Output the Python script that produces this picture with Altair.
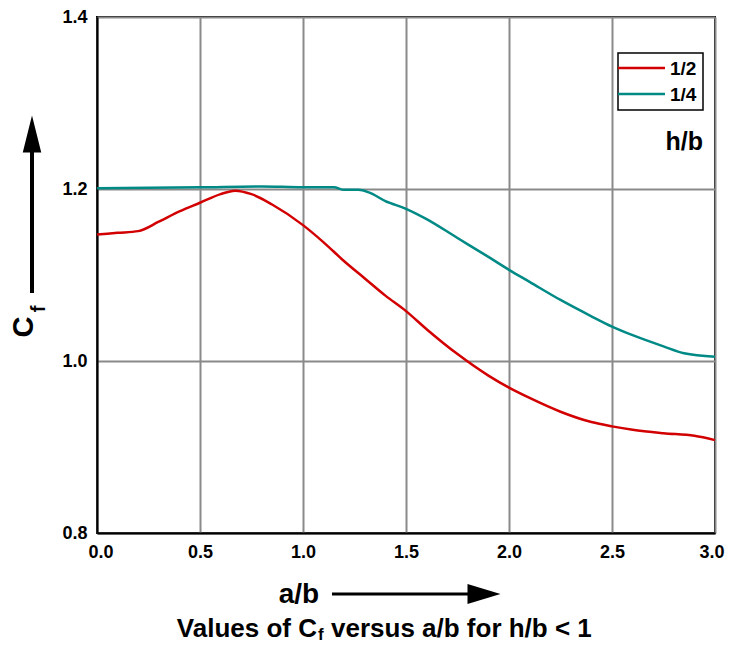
import altair as alt
import pandas as pd

# ---- data ----
series_names = ["1/2", "1/4"]
series_colors = ["#d20000", "#008a86"]

x_half = [0.0, 0.1, 0.2, 0.3, 0.4, 0.5, 0.6, 0.67, 0.75, 0.85, 1.0, 1.1, 1.2, 1.3,
          1.4, 1.5, 1.6, 1.75, 1.9, 2.0, 2.1, 2.25, 2.4, 2.5, 2.6, 2.75, 2.9, 3.0]
y_half = [1.147, 1.149, 1.151, 1.162, 1.174, 1.184, 1.194, 1.198, 1.194, 1.182, 1.158,
          1.138, 1.116, 1.096, 1.076, 1.058, 1.037, 1.008, 0.983, 0.969, 0.957, 0.941,
          0.929, 0.924, 0.920, 0.916, 0.913, 0.908]

x_quarter = [0.0, 0.5, 0.8, 1.0, 1.15, 1.2, 1.27, 1.32, 1.4, 1.5, 1.6, 1.75, 1.9, 2.0,
             2.1, 2.25, 2.4, 2.5, 2.6, 2.75, 2.85, 3.0]
y_quarter = [1.201, 1.202, 1.203, 1.202, 1.202, 1.199, 1.199, 1.196, 1.186, 1.177, 1.165,
             1.143, 1.121, 1.106, 1.092, 1.071, 1.052, 1.040, 1.030, 1.017, 1.009, 1.005]

x_ticks = [0.0, 0.5, 1.0, 1.5, 2.0, 2.5, 3.0]
y_ticks = [0.8, 1.0, 1.2, 1.4]

caption_left = "Values of C"
caption_sub = "f"
caption_right = "versus a/b for h/b < 1"

df = pd.concat([
    pd.DataFrame({"x": x_half, "y": y_half, "series": series_names[0]}),
    pd.DataFrame({"x": x_quarter, "y": y_quarter, "series": series_names[1]}),
])

one = pd.DataFrame({"k": [0]})
FONT = "Liberation Sans"

lines = alt.Chart(df).mark_line(interpolate="monotone", strokeWidth=2.5).encode(
    x=alt.X("x:Q", scale=alt.Scale(domain=[0, 3], nice=False),
            axis=alt.Axis(values=x_ticks, format=".1f", title=None,
                          labelFlush=True, labelFlushOffset=9)),
    y=alt.Y("y:Q", scale=alt.Scale(domain=[0.8, 1.4], nice=False, zero=False),
            axis=alt.Axis(values=y_ticks, format=".1f", title=None, labelFlush=False)),
    color=alt.Color("series:N", scale=alt.Scale(domain=series_names, range=series_colors),
                    legend=None),
)

def txt(s, x, y, size, align="center", baseline="alphabetic", angle=0):
    return alt.Chart(one).mark_text(text=s, font=FONT, fontWeight="bold", fontSize=size,
                                    align=align, baseline=baseline, angle=angle,
                                    color="black").encode(x=alt.value(x), y=alt.value(y))

def rule(x, x2, y, y2, w):
    return alt.Chart(one).mark_rule(color="black", strokeWidth=w).encode(
        x=alt.value(x), x2=alt.value(x2), y=alt.value(y), y2=alt.value(y2))

def head(path, x, y, size):
    return alt.Chart(one).mark_point(shape=path, filled=True, color="black", opacity=1,
                                     size=size, strokeWidth=0).encode(
        x=alt.value(x), y=alt.value(y))

# legend box
legend_box = alt.Chart(one).mark_rect(fill="white", stroke="black", strokeWidth=1.5).encode(
    x=alt.value(521), x2=alt.value(606), y=alt.value(36), y2=alt.value(93))
leg_layers = [legend_box]
for i, (name, col) in enumerate(zip(series_names, series_colors)):
    yy = 51 + 26 * i
    leg_layers.append(alt.Chart(one).mark_rule(color=col, strokeWidth=2.5).encode(
        x=alt.value(521), x2=alt.value(568), y=alt.value(yy)))
    leg_layers.append(txt(name, 573, yy + 1, 19, align="left", baseline="middle"))

annot = [
    txt("h/b", 606, 133, 25, align="right"),
    # y title with arrow
    rule(-65, -65, 276, 133, 4),
    head("M0,-1L0.5,1L-0.5,1Z", -65, 117, 1369),
    txt("C", -73, 310, 29, align="center", baseline="middle", angle=270),
    txt("f", -58, 292, 20, align="center", baseline="middle", angle=270),
    # x title with arrow
    txt("a/b", 202, 586, 28, align="center"),
    rule(235, 372, 577, 577, 3),
    head("M1,0L-1,-0.6L-1,0.6Z", 387, 577, 1089),
    # caption
    txt(caption_left, 220, 620, 26, align="right"),
    txt(caption_sub, 221, 623, 17, align="left"),
    txt(caption_right, 234, 620, 26, align="left"),
]

chart = alt.layer(lines, *leg_layers, *annot).properties(
    width=618, height=516,
    autosize=alt.AutoSizeParams(type="none"),
    padding={"left": 89, "top": 9, "right": 10, "bottom": 110},
).configure_view(
    stroke="black", strokeWidth=2
).configure_axis(
    grid=True, gridColor="#8a8a8a", gridWidth=2, gridOpacity=1,
    domainColor="black", domainWidth=2, ticks=False,
    labelFont=FONT, labelFontWeight="bold", labelFontSize=18, labelColor="black",
).configure_axisX(
    labelPadding=10, labelBaseline="top"
).configure_axisY(
    labelPadding=10
)

chart.save("out.html", embed_options={"renderer": "svg", "actions": False})
